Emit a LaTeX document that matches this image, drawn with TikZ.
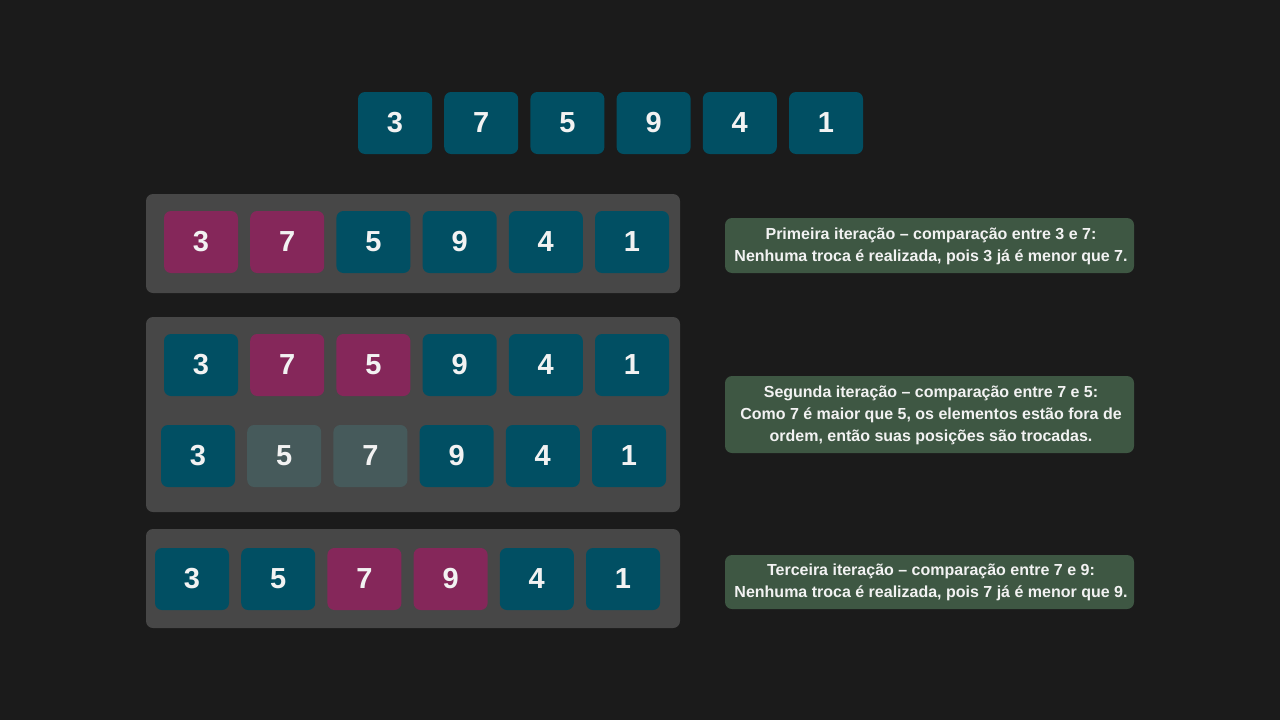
\documentclass[tikz,border=0pt]{standalone}
\usepackage{fontspec}
\setmainfont{Liberation Sans}
\definecolor{bg}{HTML}{1B1B1B}
\definecolor{panel}{HTML}{474747}
\definecolor{teal}{HTML}{014F63}
\definecolor{mag}{HTML}{85275A}
\definecolor{grayteal}{HTML}{465A5B}
\definecolor{note}{HTML}{3E5743}
\definecolor{txt}{HTML}{F2F2F2}
\begin{document}
\begin{tikzpicture}[x=1pt,y=-1pt,
  cell/.style={rounded corners=7pt,minimum width=74pt,minimum height=62pt,inner sep=0pt,
    text=txt,font=\fontsize{29}{30}\selectfont\bfseries},
  tealc/.style={cell,fill=teal},
  magc/.style={cell,fill=mag},
  grayc/.style={cell,fill=grayteal},
  panelbox/.style={fill=panel,rounded corners=7pt},
  notebox/.style={fill=note,rounded corners=7pt},
  notetext/.style={text=txt,align=center,font=\fontsize{16}{22}\selectfont\bfseries,inner sep=0pt}]
\fill[bg] (0,0) rectangle (1280,720);
\useasboundingbox (0,0) rectangle (1280,720);
% top row
\foreach \v/\x [count=\i] in {3/395,7/481.2,5/567.4,9/653.6,4/739.8,1/826}
  \node[tealc] (t\i) at (\x,123) {\v};
% panels
\fill[panelbox] (146,194) rectangle (680,293);
\fill[panelbox] (146,317) rectangle (680,512);
\fill[panelbox] (146,529) rectangle (680,628);
% panel 1
\node[magc] (a1) at (201,242) {3};
\node[magc] (a2) at (287.2,242) {7};
\node[tealc] (a3) at (373.4,242) {5};
\node[tealc] (a4) at (459.6,242) {9};
\node[tealc] (a5) at (545.8,242) {4};
\node[tealc] (a6) at (632,242) {1};
% panel 2 row A
\node[tealc] (b1) at (201,365) {3};
\node[magc] (b2) at (287.2,365) {7};
\node[magc] (b3) at (373.4,365) {5};
\node[tealc] (b4) at (459.6,365) {9};
\node[tealc] (b5) at (545.8,365) {4};
\node[tealc] (b6) at (632,365) {1};
% panel 2 row B
\node[tealc] (c1) at (198,456) {3};
\node[grayc] (c2) at (284.2,456) {5};
\node[grayc] (c3) at (370.4,456) {7};
\node[tealc] (c4) at (456.6,456) {9};
\node[tealc] (c5) at (542.8,456) {4};
\node[tealc] (c6) at (629,456) {1};
% panel 3
\node[tealc] (d1) at (192,579) {3};
\node[tealc] (d2) at (278.2,579) {5};
\node[magc] (d3) at (364.4,579) {7};
\node[magc] (d4) at (450.6,579) {9};
\node[tealc] (d5) at (536.8,579) {4};
\node[tealc] (d6) at (623,579) {1};
% notes
\fill[notebox] (725,218) rectangle (1134,273);
\node[notetext] (n1) at (931,246) {Primeira iteração – comparação entre 3 e 7:\\Nenhuma troca é realizada, pois 3 já é menor que 7.};
\fill[notebox] (725,376) rectangle (1134,453);
\node[notetext] (n2) at (931,415) {Segunda iteração – comparação entre 7 e 5:\\Como 7 é maior que 5, os elementos estão fora de\\ordem, então suas posições são trocadas.};
\fill[notebox] (725,555) rectangle (1134,609);
\node[notetext] (n3) at (931,582) {Terceira iteração – comparação entre 7 e 9:\\Nenhuma troca é realizada, pois 7 já é menor que 9.};
\end{tikzpicture}
\end{document}
